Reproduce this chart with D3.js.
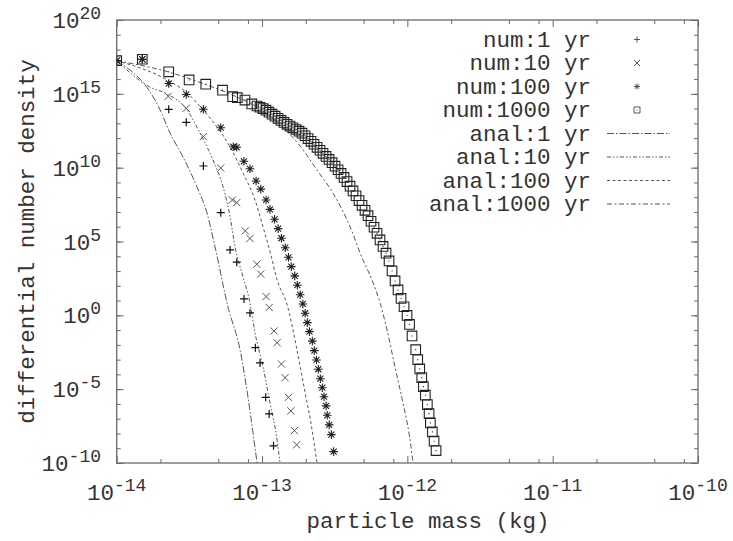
<!DOCTYPE html>
<html>
<head>
<meta charset="utf-8">
<script src="https://cdn.jsdelivr.net/npm/d3@7"></script>
<style>
  body { margin: 0; background: #fff; }
  svg text { font-family: "Liberation Mono", "DejaVu Sans Mono", monospace; fill: #333; }
</style>
</head>
<body>
<div id="chart"></div>
<script>
// tick labels (exponents of ten)
const xTickExp = ["-14", "-13", "-12", "-11", "-10"];
const yTickExp = ["-10", "-5", "0", "5", "10", "15", "20"];
const xMinorTicks = [2e-14, 5e-14, 8e-14, 2e-13, 5e-13, 8e-13, 2e-12, 5e-12, 8e-12, 2e-11, 5e-11, 8e-11];

// numerical results
const num1Mass = [1e-14, 1.5e-14, 2.28e-14, 3.01e-14, 3.95e-14, 5.2e-14, 6.03e-14, 6.7e-14, 7.52e-14, 8.26e-14, 9.0e-14, 9.69e-14, 1.06e-13, 1.12e-13, 1.2e-13];
const num1Dens = [1.75e17, 2.2e17, 9.0e13, 1.18e13, 1.3e10, 8.9e6, 2.7e4, 3.95e3, 12.9, 1.45, 6.5e-3, 6.0e-4, 2.8e-6, 2.1e-7, 1.45e-9];

const num10Mass = [1e-14, 1.5e-14, 2.26e-14, 3.01e-14, 3.95e-14, 5.2e-14, 6.25e-14, 6.7e-14, 7.67e-14, 8.26e-14, 9.2e-14, 9.8e-14, 1.067e-13, 1.12e-13, 1.21e-13, 1.27e-13, 1.36e-13, 1.44e-13, 1.52e-13, 1.58e-13, 1.67e-13, 1.73e-13];
const num10Dens = [1.75e17, 2.2e17, 6.8e14, 1.05e14, 1.26e12, 9.5e9, 6.5e7, 4.3e7, 5.2e5, 1.6e5, 2.9e3, 6.3e2, 18.6, 3.4, 0.087, 0.014, 5.1e-4, 6.0e-5, 2.8e-6, 3.4e-7, 1.56e-8, 1.7e-9];

const num100Mass = [1e-14, 1.5e-14, 2.28e-14, 3.01e-14, 3.95e-14, 5.2e-14, 6.34e-14, 6.7e-14, 7.5e-14, 8.26e-14, 9.1e-14, 9.8e-14, 1.067e-13, 1.135e-13, 1.22e-13, 1.29e-13, 1.36e-13, 1.445e-13, 1.52e-13, 1.59e-13, 1.68e-13, 1.75e-13, 1.83e-13, 1.91e-13, 1.98e-13, 2.05e-13, 2.12e-13, 2.22e-13, 2.29e-13, 2.37e-13, 2.44e-13, 2.52e-13, 2.6e-13, 2.67e-13, 2.76e-13, 2.81e-13, 2.9e-13, 3.0e-13, 3.11e-13];
const num100Dens = [1.75e17, 2.2e17, 5.0e15, 9.1e14, 9.0e13, 5.1e12, 2.6e11, 2.4e11, 2.7e10, 8.4e9, 1.26e9, 3.5e8, 6.5e7, 1.5e7, 3.2e6, 7.4e5, 1.66e5, 3.8e4, 8.5e3, 2.0e3, 4.7e2, 1.1e2, 25, 5.9, 1.38, 0.32, 0.079, 0.0178, 4.1e-3, 9.5e-4, 2.24e-4, 5.1e-5, 1.26e-5, 3.1e-6, 7.4e-7, 1.7e-7, 3.8e-8, 8.3e-9, 5.9e-10];

const num1000Mass = [1e-14, 1.5e-14, 2.28e-14, 3.15e-14, 4.1e-14, 5.35e-14, 6.28e-14, 6.76e-14, 7.63e-14, 8.5e-14, 9.24e-14,
  9.69e-14, 1.016e-13, 1.065e-13, 1.117e-13, 1.172e-13, 1.229e-13, 1.289e-13, 1.351e-13, 1.417e-13, 1.486e-13,
  1.559e-13, 1.634e-13, 1.714e-13, 1.797e-13, 1.885e-13, 1.977e-13, 2.073e-13, 2.174e-13, 2.28e-13, 2.391e-13,
  2.507e-13, 2.629e-13, 2.757e-13, 2.891e-13, 3.032e-13, 3.18e-13, 3.335e-13, 3.497e-13, 3.667e-13, 3.846e-13,
  4.033e-13, 4.229e-13, 4.435e-13, 4.651e-13, 4.877e-13, 5.115e-13, 5.363e-13, 5.625e-13, 5.898e-13, 6.185e-13,
  6.486e-13, 6.803e-13, 7.134e-13, 7.482e-13, 7.846e-13, 8.229e-13, 8.629e-13, 9.049e-13, 9.49e-13, 9.953e-13,
  1.0355e-12, 1.077e-12, 1.142e-12, 1.179e-12, 1.217e-12, 1.256e-12, 1.289e-12, 1.33e-12, 1.373e-12, 1.411e-12,
  1.44e-12, 1.486e-12, 1.527e-12, 1.576e-12];
const num1000Dens = [1.75e17, 2.2e17, 3.1e16, 8.7e15, 4.5e15, 1.78e15, 6.4e14, 5.5e14, 3.8e14, 2.06e14, 1.5e14,
  1.23e14, 1.0e14, 7.8e13, 5.73e13, 4.19e13, 3.07e13, 2.18e13, 1.57e13, 1.15e13, 8.67e12,
  6.55e12, 5.02e12, 3.85e12, 2.96e12, 2.17e12, 1.45e12, 9.33e11, 6.04e11, 3.84e11, 2.4e11,
  1.51e11, 9.29e10, 5.73e10, 3.59e10, 2.18e10, 1.26e10, 7.21e9, 4.05e9, 2.17e9, 1.15e9,
  5.58e8, 2.64e8, 1.25e8, 5.92e7, 2.81e7, 1.29e7, 5.62e6, 2.35e6, 9.23e5, 3.56e5,
  1.27e5, 4.62e4, 1.63e4, 4.82e3, 1.01e3, 213, 52.5, 13.9, 3.82, 0.984,
  0.242, 0.0403, 4.76e-3, 1.0e-3, 2.35e-4, 6.05e-5, 1.49e-5, 3.89e-6, 9.0e-7, 2.21e-7,
  5.19e-8, 1.28e-8, 2.99e-9, 6.9e-10];

// analytic solutions
const anal1Mass = [1e-14, 1.99e-14, 2.33e-14, 2.86e-14, 3.57e-14, 4.18e-14, 4.75e-14, 5.83e-14, 7.06e-14, 8.0e-14, 8.67e-14, 9.24e-14];
const anal1Dens = [1.75e17, 8.1e13, 2.2e12, 5.3e10, 4.9e8, 8.5e6, 4.3e4, 3.7, 4.6e-3, 3.0e-6, 1.1e-8, 1e-10];
const anal10Mass = [1e-14, 1.69e-14, 2.22e-14, 3.05e-14, 3.74e-14, 4.6e-14, 5.4e-14, 6.03e-14, 6.52e-14, 7.4e-14, 8.26e-14, 8.95e-14, 1.016e-13, 1.135e-13, 1.27e-13, 1.33e-13];
const anal10Dens = [1.75e17, 2.9e15, 9.8e14, 8.1e13, 2.2e12, 3.3e10, 4.9e8, 4.6e6, 4.3e4, 4.0e2, 6.9, 0.065, 3.2e-4, 1.17e-6, 3.6e-9, 1e-10];
const anal100Mass = [1e-14, 2.22e-14, 3.05e-14, 3.93e-14, 4.9e-14, 6.03e-14, 7.4e-14, 8.95e-14, 1.03e-13, 1.15e-13, 1.27e-13, 1.49e-13, 1.74e-13, 1.98e-13, 2.17e-13, 2.39e-13];
const anal100Dens = [1.75e17, 8.7e15, 1.15e15, 8.1e13, 5.7e12, 2.5e11, 4.4e9, 6.5e7, 6.1e5, 1.23e4, 2.5e2, 5.0, 4.6e-3, 5.6e-6, 5.1e-8, 1e-10];
const anal1000Mass = [1e-14, 2.25e-14, 4.18e-14, 6.73e-14, 9.24e-14, 1.33e-13, 1.83e-13, 2.39e-13, 3.08e-13, 4.04e-13, 4.88e-13, 5.71e-13, 6.49e-13, 7.25e-13, 8.22e-13, 9.33e-13, 1.036e-12, 1.094e-12];
const anal1000Dens = [1.75e17, 3.1e16, 4.0e15, 6.1e14, 1.29e14, 7.8e12, 2.9e11, 6.9e9, 1.9e8, 9.7e5, 7.7e3, 2.5e2, 6.9, 0.10, 3.2e-4, 1.17e-6, 5.9e-9, 1e-10];

document.addEventListener("DOMContentLoaded", function () {
    const width = 733, height = 541;
    const left = 116.7, right = 698, top = 20, bottom = 463;
    const fontSize = 22.5;

    const svg = d3.select("#chart")
        .append("svg")
        .attr("width", width)
        .attr("height", height);

    const x = d3.scaleLog().domain([1e-14, 1e-10]).range([left, right]);
    const y = d3.scaleLog().domain([1e-10, 1e20]).range([bottom, top]);

    const xMajor = xTickExp.map(e => Math.pow(10, +e));
    const yMajor = yTickExp.map(e => Math.pow(10, +e));
    const yMinor = d3.range(-10, 21).map(e => Math.pow(10, e));

    svg.append("clipPath").attr("id", "clip")
        .append("rect")
        .attr("x", left).attr("y", top)
        .attr("width", right - left).attr("height", bottom - top);

    // ticks on all four sides, pointing inward
    function styleAxis(g) {
        g.select(".domain").remove();
        g.selectAll("line").attr("stroke", "#6a6a6a");
    }
    const axes = [
        [d3.axisBottom(x), `translate(0,${bottom})`, xMajor, xMinorTicks],
        [d3.axisTop(x), `translate(0,${top})`, xMajor, xMinorTicks],
        [d3.axisLeft(y), `translate(${left},0)`, yMajor, yMinor],
        [d3.axisRight(y), `translate(${right},0)`, yMajor, yMinor]
    ];
    axes.forEach(([axis, tr, major, minor]) => {
        const mk = () => axis.tickFormat("").tickSizeOuter(0);
        svg.append("g").attr("transform", tr)
            .call(mk().tickValues(minor).tickSizeInner(-4)).call(styleAxis);
        svg.append("g").attr("transform", tr)
            .call(mk().tickValues(major).tickSizeInner(-7)).call(styleAxis);
    });

    svg.append("rect")
        .attr("x", left).attr("y", top)
        .attr("width", right - left).attr("height", bottom - top)
        .attr("fill", "none")
        .attr("stroke", "#6a6a6a")
        .attr("stroke-width", 1.3);

    // tick labels 10^n
    function powLabel(sel, exp) {
        sel.append("tspan").text("10");
        sel.append("tspan").attr("dy", -9).attr("font-size", fontSize * 0.8).text(exp);
    }
    xTickExp.forEach((e, i) => {
        svg.append("text")
            .attr("x", x(xMajor[i])).attr("y", 500)
            .attr("text-anchor", "middle")
            .attr("font-size", fontSize)
            .call(powLabel, e);
    });
    yTickExp.forEach((e, i) => {
        svg.append("text")
            .attr("x", 101).attr("y", y(yMajor[i]) + 8)
            .attr("text-anchor", "end")
            .attr("font-size", fontSize)
            .call(powLabel, e);
    });

    svg.append("text")
        .attr("x", 428).attr("y", 528)
        .attr("text-anchor", "middle")
        .attr("font-size", fontSize)
        .text("particle mass (kg)");

    svg.append("text")
        .attr("transform", `translate(34,${(top + bottom) / 2}) rotate(-90)`)
        .attr("text-anchor", "middle")
        .attr("font-size", fontSize)
        .text("differential number density");

    // marker shapes
    const shapes = {
        plus: s => `M${-s},0H${s}M0,${-s}V${s}`,
        times: s => `M${-s},${-s}L${s},${s}M${-s},${s}L${s},${-s}`,
        star: s => `M${-s},0H${s}M0,${-s}V${s}M${-s * 0.7},${-s * 0.7}L${s * 0.7},${s * 0.7}M${-s * 0.7},${s * 0.7}L${s * 0.7},${-s * 0.7}`,
        box: s => `M${-s},${-s}H${s}V${s}H${-s}Z M-0.5,0H0.5`
    };

    const numSeries = [
        { label: "num:1 yr", mass: num1Mass, dens: num1Dens, shape: "plus", size: 4, color: "#111", sw: 1.2 },
        { label: "num:10 yr", mass: num10Mass, dens: num10Dens, shape: "times", size: 3.6, color: "#555", sw: 1 },
        { label: "num:100 yr", mass: num100Mass, dens: num100Dens, shape: "star", size: 4.3, color: "#222", sw: 1.1 },
        { label: "num:1000 yr", mass: num1000Mass, dens: num1000Dens, shape: "box", size: 4.8, color: "#222", sw: 1.1 }
    ];
    const analSeries = [
        { label: "anal:1 yr", mass: anal1Mass, dens: anal1Dens, dash: "7,2,1.5,2" },
        { label: "anal:10 yr", mass: anal10Mass, dens: anal10Dens, dash: "4,2,1.5,2,1.5,2" },
        { label: "anal:100 yr", mass: anal100Mass, dens: anal100Dens, dash: "3,2.5" },
        { label: "anal:1000 yr", mass: anal1000Mass, dens: anal1000Dens, dash: "5,2.5,2,2.5" }
    ];

    const plot = svg.append("g").attr("clip-path", "url(#clip)");

    const line = d3.line()
        .x(d => x(d[0]))
        .y(d => y(d[1]))
        .curve(d3.curveMonotoneX);

    analSeries.forEach(s => {
        plot.append("path")
            .datum(d3.zip(s.mass, s.dens))
            .attr("d", line)
            .attr("fill", "none")
            .attr("stroke", "#555")
            .attr("stroke-width", 1)
            .attr("stroke-dasharray", s.dash);
    });

    numSeries.forEach(s => {
        plot.append("g")
            .selectAll("path")
            .data(d3.zip(s.mass, s.dens))
            .enter()
            .append("path")
            .attr("transform", d => `translate(${x(d[0])},${y(d[1])})`)
            .attr("d", shapes[s.shape](s.size))
            .attr("fill", "none")
            .attr("stroke", s.color)
            .attr("stroke-width", s.sw);
    });

    // legend
    const legTextX = 591, legRow0 = 39.5, legStep = 23.5;
    const legend = svg.append("g");
    numSeries.concat(analSeries).forEach((s, i) => {
        const cy = legRow0 + i * legStep;
        legend.append("text")
            .attr("x", legTextX).attr("y", cy + 7)
            .attr("text-anchor", "end")
            .attr("font-size", fontSize)
            .attr("xml:space", "preserve")
            .text(s.label);
        if (s.shape) {
            legend.append("path")
                .attr("transform", `translate(637,${cy})`)
                .attr("d", shapes[s.shape](3))
                .attr("fill", "none")
                .attr("stroke", "#444")
                .attr("stroke-width", 0.9);
        } else {
            legend.append("line")
                .attr("x1", 607).attr("x2", 670)
                .attr("y1", cy).attr("y2", cy)
                .attr("stroke", "#555")
                .attr("stroke-dasharray", s.dash);
        }
    });
});
</script>
</body>
</html>
